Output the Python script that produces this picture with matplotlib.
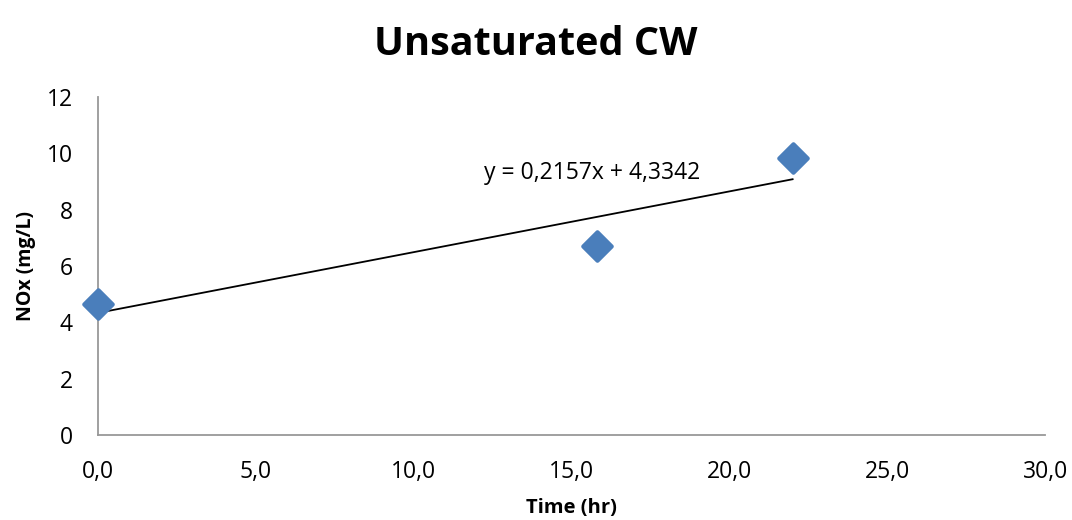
import matplotlib
matplotlib.use("Agg")
import matplotlib.pyplot as plt
import numpy as np
from matplotlib.ticker import FuncFormatter

plt.rcParams['font.family'] = ['Open Sans', 'DejaVu Sans']

# Datos
time_hr = [0.0, 15.8, 22.0]
nox_mgl = [4.65, 6.7, 9.85]
slope = 0.2157
intercept = 4.3342
x_ticks = [0, 5, 10, 15, 20, 25, 30]
y_ticks = [0, 2, 4, 6, 8, 10, 12]

fig = plt.figure(figsize=(10.72, 5.2), dpi=100)
ax = fig.add_axes([0.0914, 0.1635, 0.8836, 0.65])

# Linea de tendencia
x_fit = np.array([min(time_hr), max(time_hr)])
ax.plot(x_fit, slope * x_fit + intercept, color='black', linewidth=1.3, zorder=2)

ax.scatter(time_hr, nox_mgl, marker='D', s=210, color='#4a7ebb',
           edgecolors='#4a7ebb', linewidths=3, joinstyle='round',
           zorder=3, clip_on=False)

ax.text(15.65, 9.3, 'y = 0,2157x + 4,3342', fontsize=16.5, ha='center', va='center')

ax.set_xlim(0, 30)
ax.set_ylim(0, 12)
ax.set_xticks(x_ticks)
ax.set_yticks(y_ticks)
ax.xaxis.set_major_formatter(FuncFormatter(lambda v, p: f'{v:.1f}'.replace('.', ',')))
ax.tick_params(length=0, labelsize=16.5)
ax.tick_params(axis='x', pad=18)
ax.tick_params(axis='y', pad=18)

for s in ['top', 'right']:
    ax.spines[s].set_visible(False)
for s in ['left', 'bottom']:
    ax.spines[s].set_color('#989898')
    ax.spines[s].set_linewidth(1.3)

ax.set_xlabel('Time (hr)', fontsize=14.5, fontweight='bold', labelpad=10)
ax.set_ylabel('NOx (mg/L)', fontsize=14, fontweight='bold', labelpad=8)
fig.suptitle('Unsaturated CW', fontsize=28.5, fontweight='bold', y=0.952)

fig.savefig('out.png', dpi=100)
